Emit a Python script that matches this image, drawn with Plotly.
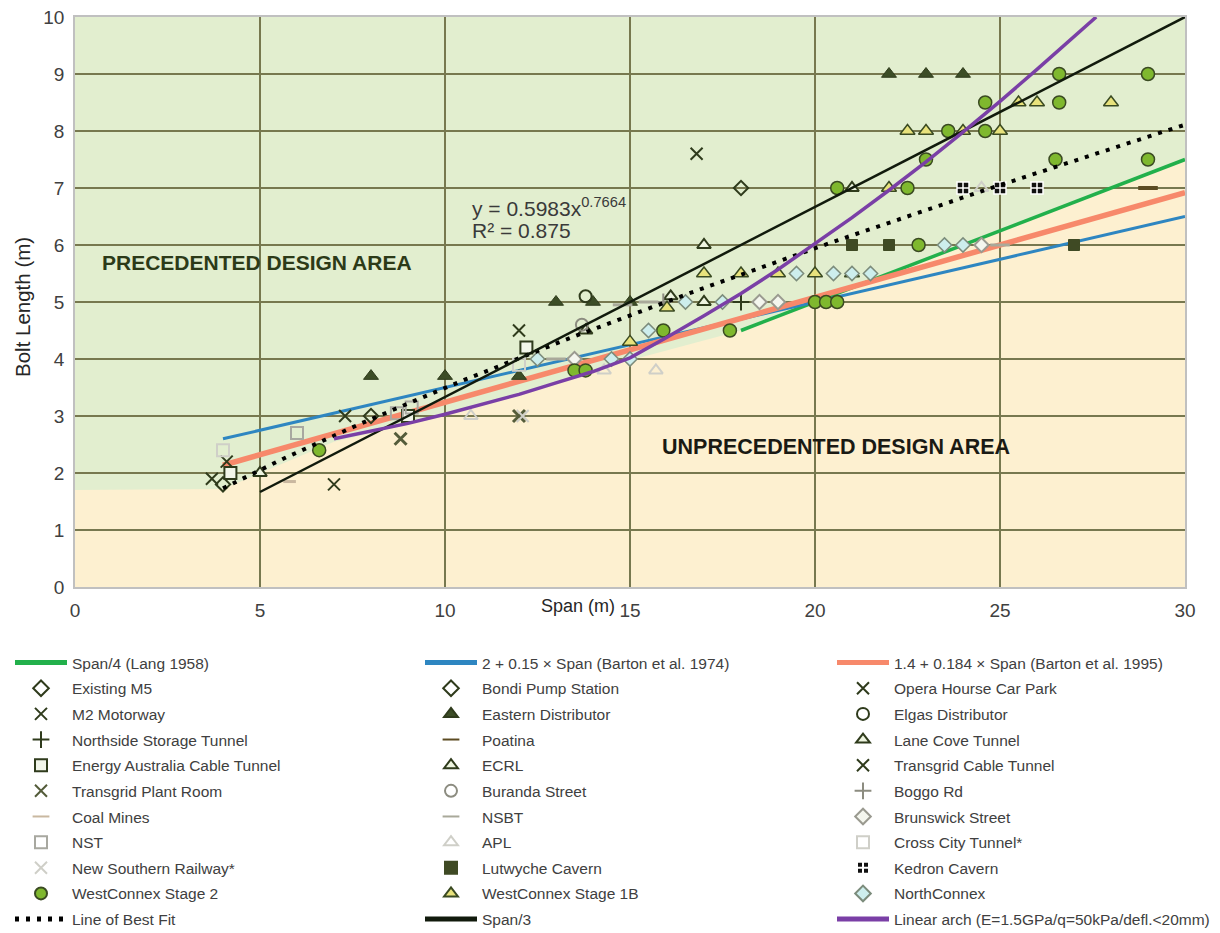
import numpy as np
import plotly.graph_objects as go

# ---- reference design lines (coefficients as printed in the legend) ----
lang_x = [18, 30]                 # Span/4 drawn for spans 18-30 m
barton74_x = [4, 30]
barton95_x = [4, 30]
span3_x = [5, 30]
fit_a, fit_b = 0.5983, 0.7664     # power-law best fit
fit_x_range = (4, 30)

# linear arch (E=1.5GPa / q=50kPa / defl.<20mm)
arch_x = [7, 8, 9, 10, 11, 12, 13, 14, 15, 16, 17, 18, 19, 20, 21, 22, 23, 24, 25, 26, 27, 27.6]
arch_y = [2.6, 2.73, 2.87, 3.03, 3.2, 3.38, 3.58, 3.78, 4.02, 4.38, 4.76, 5.15, 5.57, 6.02,
          6.48, 6.96, 7.46, 7.98, 8.52, 9.08, 9.66, 10.0]

# precedented / unprecedented boundary
boundary_x = [0, 4, 7, 10, 15, 18, 30]
boundary_y = [1.7, 1.72, 2.55, 3.0, 3.98, 4.5, 7.5]

# ---- case history data: span (m) vs bolt length (m) ----
m5_x, m5_y = [4.0, 8.0], [1.8, 3.0]
bondi_x, bondi_y = [18.0], [7.0]
opera_x, opera_y = [7.3], [3.0]
m2_x, m2_y = [7.0, 16.8], [1.8, 7.6]
eastern_x = [8, 10, 12, 13, 14, 15, 22, 23, 24]
eastern_y = [3.7, 3.7, 3.7, 5.0, 5.0, 5.0, 9.0, 9.0, 9.0]
elgas_x, elgas_y = [13.8], [5.1]
northside_x, northside_y = [18.0], [5.0]
poatina_x, poatina_y = [29.0], [7.0]
lanecove_x, lanecove_y = [17.0, 21.0], [6.0, 7.0]
tg_cable_x, tg_cable_y = [3.7, 4.1, 12.0], [1.9, 2.2, 4.5]
energy_x, energy_y = [4.2, 9.0, 12.2], [2.0, 3.0, 4.2]
ecrl_x, ecrl_y = [5.0, 16.1, 17.0, 13.8], [2.0, 5.1, 5.0, 4.5]
tg_plant_x, tg_plant_y = [8.8, 12.0], [2.6, 3.0]
buranda_x, buranda_y = [13.7], [4.6]
boggo_x, boggo_y = [15.9], [5.0]
coal_x, coal_y = [5.8], [1.85]
nsbt_x, nsbt_y = [13.0, 14.8, 15.5, 25.0], [4.0, 4.95, 5.0, 6.0]
brunswick_x, brunswick_y = [13.5, 18.5, 19.0, 24.5], [4.0, 5.0, 5.0, 6.0]
nst_x, nst_y = [6.0, 8.7, 9.1], [2.7, 3.05, 3.15]
apl_x, apl_y = [10.7, 14.3, 15.7, 24.5], [3.0, 3.8, 3.8, 7.0]
cross_city_x, cross_city_y = [4.0, 12.0], [2.4, 3.9]
nsr_x, nsr_y = [12.1], [3.0]
lutwyche_x, lutwyche_y = [21, 22, 27], [6.0, 6.0, 6.0]
kedron_x, kedron_y = [24, 25, 26], [7.0, 7.0, 7.0]
wcx2_x = [6.6, 13.5, 13.8, 15.9, 17.7, 20.0, 20.3, 20.6, 20.6, 22.5, 23.0, 23.6, 24.6,
          22.8, 24.6, 26.5, 26.6, 26.6, 29.0, 29.0]
wcx2_y = [2.4, 3.8, 3.8, 4.5, 4.5, 5.0, 5.0, 5.0, 7.0, 7.0, 7.5, 8.0, 8.0,
          6.0, 8.5, 7.5, 8.5, 9.0, 9.0, 7.5]
wcx1b_x = [15, 16, 17, 18, 19, 20, 21, 22, 22.5, 23, 24, 25, 25.5, 26, 28]
wcx1b_y = [4.3, 4.9, 5.5, 5.5, 5.5, 5.5, 5.5, 7.0, 8.0, 8.0, 8.0, 8.0, 8.5, 8.5, 8.5]
nconnex_x = [12.5, 14.5, 15.0, 15.5, 16.5, 17.5, 19.5, 20.5, 21.0, 21.5, 23.5, 24.0]
nconnex_y = [4.0, 4.0, 4.0, 4.5, 5.0, 5.0, 5.5, 5.5, 5.5, 5.5, 6.0, 6.0]

DARK = "#2f3b1c"
GREY = "#8c8c80"
PALE = "#cfcfc8"
LEGENDS = ["legend", "legend2", "legend3"]

fig = go.Figure()
count = [0]


def legend_slot():
    # entries fill the three legend columns row by row
    i = count[0]
    count[0] += 1
    return dict(legend=LEGENDS[i % 3], legendgroup=f"g{i}", legendrank=i)


def add_line(name, x, y, color, width, dash=None):
    fig.add_trace(go.Scatter(x=x, y=y, mode="lines", name=name, hoverinfo="skip",
                             line=dict(color=color, width=width, dash=dash),
                             **legend_slot()))


def add_pts(name, x, y, symbol, color, size=11, line_color=None, line_width=2):
    fig.add_trace(go.Scatter(
        x=x, y=y, mode="markers", name=name,
        marker=dict(symbol=symbol, size=size, color=color,
                    line=dict(color=line_color or color, width=line_width)),
        **legend_slot()))


add_line("Span/4 (Lang 1958)", lang_x, [v / 4 for v in lang_x], "#22b04b", 3.5)
add_line("2 + 0.15 × Span (Barton et al. 1974)", barton74_x,
         [2 + 0.15 * v for v in barton74_x], "#2e86c1", 3)
add_line("1.4 + 0.184 × Span (Barton et al. 1995)", barton95_x,
         [1.4 + 0.184 * v for v in barton95_x], "#f7896b", 5.5)
add_pts("Existing M5", m5_x, m5_y, "diamond-open", DARK, 11)
add_pts("Bondi Pump Station", bondi_x, bondi_y, "diamond-open", DARK, 11)
add_pts("Opera Hourse Car Park", opera_x, opera_y, "x-thin-open", DARK, 12)
add_pts("M2 Motorway", m2_x, m2_y, "x-thin-open", DARK, 12)
add_pts("Eastern Distributor", eastern_x, eastern_y, "triangle-up", "#3c4d26", 13, DARK, 1)
add_pts("Elgas Distributor", elgas_x, elgas_y, "circle-open", DARK, 12)
add_pts("Northside Storage Tunnel", northside_x, northside_y, "cross-thin-open", DARK, 12)
add_pts("Poatina", poatina_x, poatina_y, "line-ew-open", "#5c4b22", 14, line_width=4)
add_pts("Lane Cove Tunnel", lanecove_x, lanecove_y, "triangle-up", "#eef5e0", 12, DARK, 2)
add_pts("Energy Australia Cable Tunnel", energy_x, energy_y, "square", "#f2f6ea", 12, DARK, 2)
add_pts("ECRL", ecrl_x, ecrl_y, "triangle-up", "#eef5e0", 12, DARK, 2)
add_pts("Transgrid Cable Tunnel", tg_cable_x, tg_cable_y, "x-thin-open", DARK, 12)
add_pts("Transgrid Plant Room", tg_plant_x, tg_plant_y, "x-thin-open", "#545c3a", 12, line_width=3)
add_pts("Buranda Street", buranda_x, buranda_y, "circle-open", GREY, 12)
add_pts("Boggo Rd", boggo_x, boggo_y, "cross-thin-open", GREY, 12)
add_pts("Coal Mines", coal_x, coal_y, "line-ew-open", "#c9b8a0", 9, line_width=3)
add_pts("NSBT", nsbt_x, nsbt_y, "line-ew-open", "#a9a99a", 14, line_width=3)
add_pts("Brunswick Street", brunswick_x, brunswick_y, "diamond", "#f4f6ee", 11, "#9a9a90", 2)
add_pts("NST", nst_x, nst_y, "square-open", "#a8a8a0", 12)
add_pts("APL", apl_x, apl_y, "triangle-up-open", PALE, 12)
add_pts("Cross City Tunnel*", cross_city_x, cross_city_y, "square-open", PALE, 12)
add_pts("New Southern Railway*", nsr_x, nsr_y, "x-thin-open", PALE, 12)
add_pts("Lutwyche Cavern", lutwyche_x, lutwyche_y, "square", "#3f4a24", 11, "#3f4a24", 1)
add_pts("Kedron Cavern", kedron_x, kedron_y, "square-cross", "#111111", 12, "#ffffff", 1.5)
add_pts("WestConnex Stage 2", wcx2_x, wcx2_y, "circle", "#7fb82e", 13, "#3a4a22", 1.5)
add_pts("WestConnex Stage 1B", wcx1b_x, wcx1b_y, "triangle-up", "#e8e27c", 13, "#3a4a22", 1.5)
add_pts("NorthConnex", nconnex_x, nconnex_y, "diamond", "#cdeeed", 11, "#7c8c7c", 1.5)

fit_x = np.linspace(fit_x_range[0], fit_x_range[1], 120)
add_line("Line of Best Fit", fit_x, fit_a * fit_x ** fit_b, "#000000", 4, "4px,7px")
add_line("Span/3", span3_x, [v / 3 for v in span3_x], "#111a0c", 2.5)
add_line("Linear arch (E=1.5GPa/q=50kPa/defl.<20mm)", arch_x, arch_y, "#7a3fa6", 3.5)

# unprecedented region below the boundary
path = "M 0,0 " + " ".join(f"L {x},{y}" for x, y in zip(boundary_x, boundary_y)) + " L 30,0 Z"
fig.add_shape(type="path", path=path, xref="x", yref="y", layer="below",
              fillcolor="#fdf0d0", line=dict(width=0))

# plot area pixel geometry
L, R, T, B = 75, 35, 17, 346
W, H = 1220 - L - R, 933 - T - B


def px(xp):
    return (xp - L) / W


def py(yp):
    return (933 - B - yp) / H


def label(xp, yp, text, size, color, xanchor="center", angle=0):
    fig.add_annotation(x=px(xp), y=py(yp), xref="paper", yref="paper", showarrow=False,
                       xanchor=xanchor, yanchor="middle", text=text, textangle=angle,
                       font=dict(size=size, color=color))


label(470, 207, "y = 0.5983x<sup>0.7664</sup>", 21, "#3a3a3a", "left")
label(470, 231, "R² = 0.875", 21, "#3a3a3a", "left")
label(257, 262, "<b>PRECEDENTED DESIGN AREA</b>", 21, "#2c3a18")
label(836, 447, "<b>UNPRECEDENTED DESIGN AREA</b>", 21.5, "#1a1a14")
label(22, 307, "Bolt Length (m)", 20.5, "#262626", angle=-90)
label(578, 606, "Span (m)", 18, "#262626")

grid = dict(showgrid=True, gridcolor="#77784f", gridwidth=2, zeroline=False,
            showline=True, linecolor="#c0c0c0", linewidth=1.5, mirror=True,
            ticks="", tickfont=dict(size=19, color="#404040"), ticklabelstandoff=5)

ITEM_W = 52
legend_common = dict(orientation="v", xref="container", yref="container",
                     y=1 - 646 / 933, xanchor="left", yanchor="top",
                     itemsizing="constant", itemwidth=ITEM_W, tracegroupgap=2.5,
                     font=dict(size=15.5, color="#404040"), bgcolor="rgba(0,0,0,0)",
                     traceorder="grouped")
text_starts = [73, 483, 895]
legends = {name: dict(x=(ts - ITEM_W - 11) / 1220, **legend_common)
           for name, ts in zip(LEGENDS, text_starts)}

fig.update_layout(
    width=1220, height=933,
    margin=dict(l=L, r=R, t=T, b=B, autoexpand=False),
    paper_bgcolor="white", plot_bgcolor="#e2eecf",
    font=dict(family="Liberation Sans, Arial, sans-serif"),
    xaxis=dict(range=[0, 30], dtick=5, **grid),
    yaxis=dict(range=[0, 10], dtick=1, **grid),
    showlegend=True,
    **legends,
)

fig.write_html("out.html")
